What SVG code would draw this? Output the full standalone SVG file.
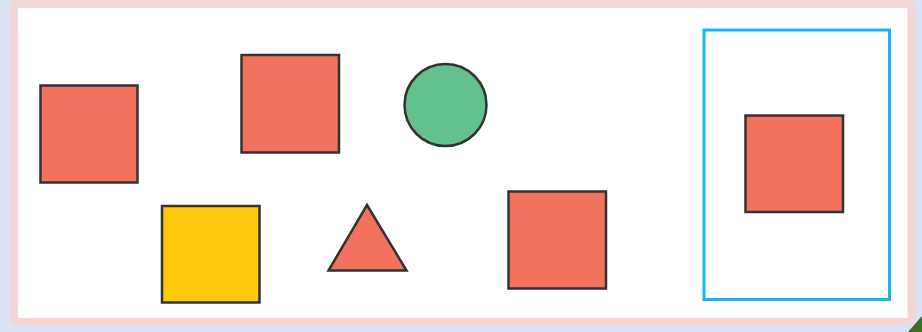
<svg xmlns="http://www.w3.org/2000/svg" width="922" height="332" viewBox="0 0 922 332">
<style>
.sh{stroke:#333;stroke-width:2.5}
.red{fill:#f2725d}
.yel{fill:#fec80b}
.grn{fill:#63c18d}
</style>
<rect x="0" y="0" width="922" height="332" fill="#dae3f3"/>
<rect x="14" y="4" width="897.5" height="318" rx="4" fill="#ffffff" stroke="#f2d7d6" stroke-width="8"/>
<polygon points="908,332 922,316 922,332" fill="#3e6b23"/>
<g id="frame"><rect x="704" y="30" width="185.5" height="269.5" fill="none" stroke="#19b5f0" stroke-width="3"/></g>
<g id="sq1"><rect class="sh red" x="40.5" y="85.5" width="97" height="97"/></g>
<g id="sq2"><rect class="sh red" x="241.5" y="55" width="97.5" height="97.5"/></g>
<g id="circle"><circle class="sh grn" cx="445.5" cy="105" r="41"/></g>
<g id="yellow"><rect class="sh yel" x="162" y="206" width="97.5" height="96.5"/></g>
<g id="tri"><polygon class="sh red" points="367,205 406.5,270.5 328.5,270.5"/></g>
<g id="sq3"><rect class="sh red" x="508.5" y="191.5" width="97.5" height="97"/></g>
<g id="sq4"><rect class="sh red" x="745.5" y="115.5" width="97.5" height="96.5"/></g>
<g id="connectors"></g>
</svg>
